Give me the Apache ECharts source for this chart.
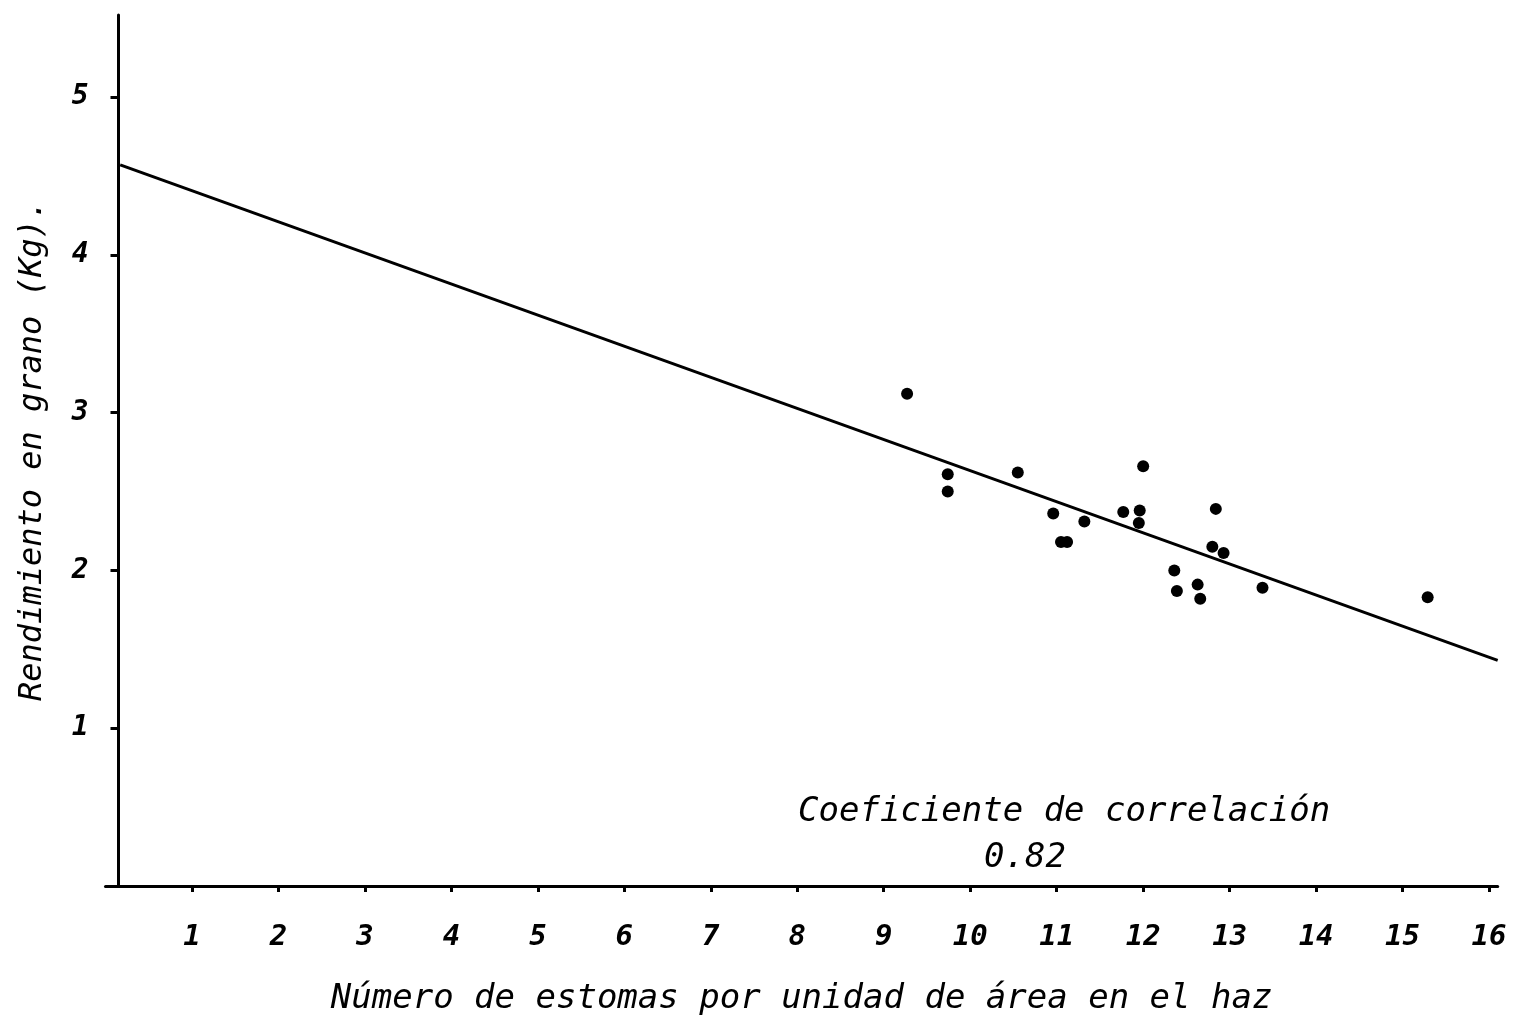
<!DOCTYPE html>
<html>
<head>
<meta charset="utf-8">
<script src="https://cdn.jsdelivr.net/npm/echarts@6/dist/echarts.min.js"></script>
<style>
  html, body { margin: 0; padding: 0; background: #ffffff; }
  #chart { width: 1522px; height: 1027px; }
</style>
</head>
<body>
<div id="chart"></div>
<script>
// Observed points: stomata count (x) vs grain yield in kg (y)
const stomataX = [9.27, 9.74, 9.74, 10.55, 10.96, 11.05, 11.12, 11.32, 11.77, 11.96, 11.95, 12.00, 12.84, 12.80, 12.93, 12.36, 12.39, 12.63, 12.66, 13.38, 15.29];
const yieldY   = [3.12, 2.61, 2.50, 2.62, 2.36, 2.18, 2.18, 2.31, 2.37, 2.38, 2.30, 2.66, 2.39, 2.15, 2.11, 2.00, 1.87, 1.91, 1.82, 1.89, 1.83];
// Regression line endpoints
const lineX = [0.17, 16.1];
const lineY = [4.57, 1.43];
// Tick labels
const xTicks = [1, 2, 3, 4, 5, 6, 7, 8, 9, 10, 11, 12, 13, 14, 15, 16];
const yTicks = [1, 2, 3, 4, 5];
const xName = 'Número de estomas por unidad de área en el haz';
const yName = 'Rendimiento en grano (Kg).';
const noteTitle = 'Coeficiente de correlación';
const noteValue = '0.82';

const FONT = '"DejaVu Sans Mono", monospace';
const chart = echarts.init(document.getElementById('chart'), null, { renderer: 'canvas' });

const points = stomataX.map((x, i) => [x, yieldY[i]]);
const line = lineX.map((x, i) => [x, lineY[i]]);

chart.setOption({
  animation: false,
  backgroundColor: '#ffffff',
  grid: { left: 105.5, right: 24.3, top: 15, bottom: 141, containLabel: false },
  xAxis: {
    type: 'value',
    min: 0, max: 16.1,
    splitLine: { show: false },
    axisLine: { onZero: false, lineStyle: { color: '#000', width: 3 } },
    axisTick: { show: true, length: 6, inside: false, customValues: xTicks, lineStyle: { color: '#000', width: 3 } },
    axisLabel: { customValues: xTicks, margin: 37, color: '#000', fontSize: 29, fontStyle: 'italic', fontWeight: 'bold', fontFamily: FONT },
    name: xName,
    nameLocation: 'middle',
    nameGap: 96,
    nameTextStyle: { color: '#000', fontSize: 34, fontStyle: 'italic', fontFamily: FONT }
  },
  yAxis: {
    type: 'value',
    min: 0, max: 5.52,
    offset: -13,
    splitLine: { show: false },
    axisLine: { onZero: false, lineStyle: { color: '#000', width: 3 } },
    axisTick: { show: true, length: 8, customValues: yTicks, lineStyle: { color: '#000', width: 3 } },
    axisLabel: { customValues: yTicks, margin: 30, color: '#000', fontSize: 28, fontStyle: 'italic', fontWeight: 'bold', fontFamily: FONT },
    name: yName,
    nameLocation: 'middle',
    nameGap: 70,
    nameTextStyle: { color: '#000', fontSize: 32, fontStyle: 'italic', fontFamily: FONT }
  },
  series: [
    {
      type: 'line',
      data: line,
      symbol: 'none',
      lineStyle: { color: '#000', width: 3 },
      z: 2
    },
    {
      type: 'scatter',
      data: points,
      symbol: 'circle',
      symbolSize: 12,
      itemStyle: { color: '#000', opacity: 1 },
      z: 3
    }
  ],
  graphic: [
    {
      type: 'text', left: 798, top: 795,
      style: { text: noteTitle, fill: '#000', font: 'italic 34px ' + FONT }
    },
    {
      type: 'text', left: 984, top: 841,
      style: { text: noteValue, fill: '#000', font: 'italic 34px ' + FONT }
    }
  ]
});
</script>
</body>
</html>
